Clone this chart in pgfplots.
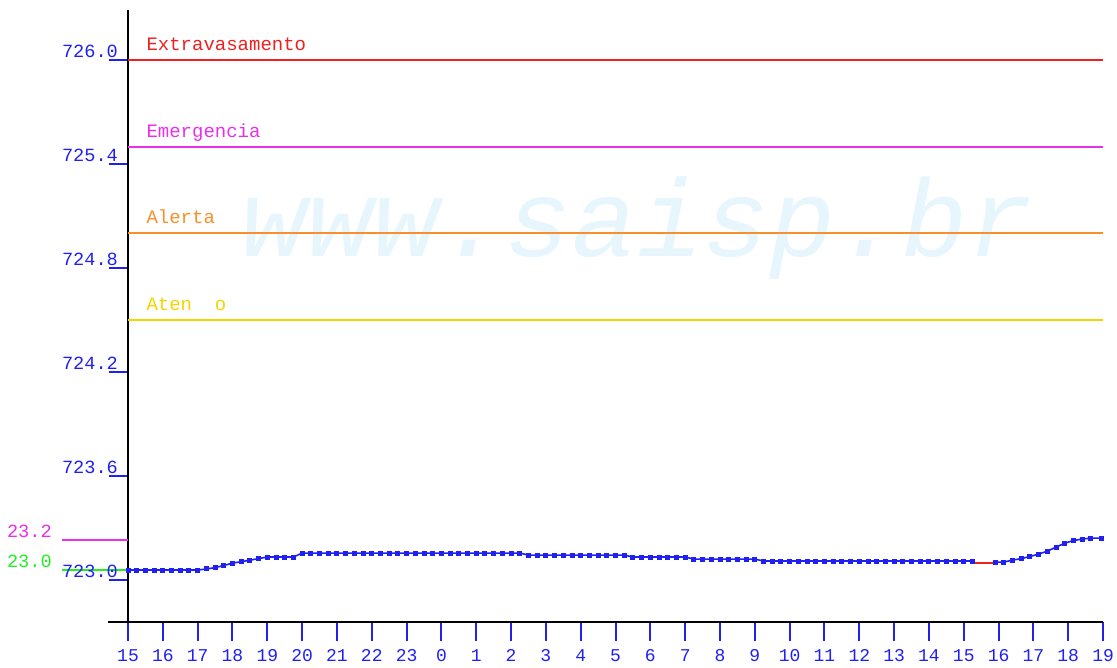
\documentclass[border=0pt]{standalone}
\usepackage{fontspec}
\setmainfont{Liberation Mono}
\usepackage{pgfplots}
\pgfplotsset{compat=1.18}

\definecolor{lvlblue}{HTML}{2020F0}
\definecolor{lvlred}{HTML}{F02020}
\definecolor{lvlmag}{HTML}{E830E8}
\definecolor{lvlorange}{HTML}{F7902A}
\definecolor{lvlyellow}{HTML}{F5D500}
\definecolor{lvlgreen}{HTML}{22EE22}
\definecolor{wmark}{HTML}{E6F6FC}

\begin{document}
\begin{tikzpicture}[every node/.append style={inner sep=0pt}]
  \begin{axis}[
      x=17.41pt, y=86.65pt,
      xmin=0, xmax=28,
      ymin=722.758, ymax=726.289,
      axis x line*=bottom,
      axis y line*=left,
      axis line style={black, line width=1pt, -},
      clip=false,
      tick align=outside,
      major tick length=9.5pt,
      tick style={lvlblue, line width=1pt},
      xtick={0,...,28},
      xticklabels={15,16,17,18,19,20,21,22,23,0,1,2,3,4,5,6,7,8,9,10,11,12,13,14,15,16,17,18,19},
      xticklabel style={text=lvlblue, font=\fontsize{9}{9}\selectfont, inner sep=4pt},
      ytick={723.0,723.6,724.2,724.8,725.4,726.0},
      yticklabels={},
    ]
    % watermark
    \node[text=wmark, font=\fontsize{55}{55}\selectfont\itshape]
      at (axis cs:14.62,725.03) {www.saisp.br};

    % threshold levels
    \addplot[lvlred, line width=1pt] coordinates {(0,726.0) (28,726.0)};
    \addplot[lvlmag, line width=1pt] coordinates {(0,725.5) (28,725.5)};
    \addplot[lvlorange, line width=1pt] coordinates {(0,725.0) (28,725.0)};
    \addplot[lvlyellow, line width=1pt] coordinates {(0,724.5) (28,724.5)};

    \node[anchor=base west, text=lvlred, font=\fontsize{9.5}{9.5}\selectfont] at (axis cs:0.52,726.058) {Extravasamento};
    \node[anchor=base west, text=lvlmag, font=\fontsize{9.5}{9.5}\selectfont] at (axis cs:0.52,725.556) {Emergencia};
    \node[anchor=base west, text=lvlorange, font=\fontsize{9.5}{9.5}\selectfont] at (axis cs:0.52,725.060) {Alerta};
    \node[anchor=base west, text=lvlyellow, font=\fontsize{9.5}{9.5}\selectfont] at (axis cs:0.52,724.558) {Aten~~o};

    % short reference marks left of the axis
    \addplot[lvlmag, line width=1pt] coordinates {(-1.9,723.231) (0,723.231)};
    \addplot[lvlgreen, line width=1pt] coordinates {(-1.9,723.058) (0,723.058)};
    \node[anchor=base east, text=lvlmag, font=\fontsize{9.3}{9.3}\selectfont] at (axis cs:-2.18,723.248) {23.2};
    \node[anchor=base east, text=lvlgreen, font=\fontsize{9.3}{9.3}\selectfont] at (axis cs:-2.18,723.075) {23.0};

    % y tick labels
    \node[anchor=base east, text=lvlblue, font=\fontsize{9.3}{9.3}\selectfont] at (axis cs:-0.28,723.017) {723.0};
    \node[anchor=base east, text=lvlblue, font=\fontsize{9.3}{9.3}\selectfont] at (axis cs:-0.28,723.617) {723.6};
    \node[anchor=base east, text=lvlblue, font=\fontsize{9.3}{9.3}\selectfont] at (axis cs:-0.28,724.217) {724.2};
    \node[anchor=base east, text=lvlblue, font=\fontsize{9.3}{9.3}\selectfont] at (axis cs:-0.28,724.817) {724.8};
    \node[anchor=base east, text=lvlblue, font=\fontsize{9.3}{9.3}\selectfont] at (axis cs:-0.28,725.417) {725.4};
    \node[anchor=base east, text=lvlblue, font=\fontsize{9.3}{9.3}\selectfont] at (axis cs:-0.28,726.017) {726.0};

    % level series
    \addplot[lvlblue, line width=0.8pt, mark=square*, mark size=0.85pt] coordinates {
      (0.00,723.058) (0.25,723.058) (0.50,723.058) (0.75,723.058) (1.00,723.058)
      (1.25,723.058) (1.50,723.058) (1.75,723.058) (2.00,723.058)
      (2.25,723.064) (2.50,723.072) (2.75,723.084) (3.00,723.098) (3.25,723.106)
      (3.50,723.115) (3.75,723.124) (4.00,723.133) (4.25,723.133) (4.50,723.133)
      (4.75,723.133) (5.00,723.156) (5.25,723.156) (5.50,723.156) (5.75,723.156)
      (6.00,723.156) (6.25,723.156) (6.50,723.156) (6.75,723.156) (7.00,723.156)
      (7.25,723.156) (7.50,723.156) (7.75,723.156) (8.00,723.156) (8.25,723.156)
      (8.50,723.156) (8.75,723.156) (9.00,723.156) (9.25,723.156) (9.50,723.156)
      (9.75,723.156) (10.00,723.156) (10.25,723.156) (10.50,723.156) (10.75,723.156)
      (11.00,723.156) (11.25,723.156) (11.50,723.144) (11.75,723.144) (12.00,723.144)
      (12.25,723.144) (12.50,723.144) (12.75,723.144) (13.00,723.144) (13.25,723.144)
      (13.50,723.144) (13.75,723.144) (14.00,723.144) (14.25,723.144) (14.50,723.133)
      (14.75,723.133) (15.00,723.133) (15.25,723.133) (15.50,723.133) (15.75,723.133)
      (16.00,723.133) (16.25,723.121) (16.50,723.121) (16.75,723.121) (17.00,723.121)
      (17.25,723.121) (17.50,723.121) (17.75,723.121) (18.00,723.121) (18.25,723.110)
      (18.50,723.110) (18.75,723.110) (19.00,723.110) (19.25,723.110) (19.50,723.110)
      (19.75,723.110) (20.00,723.110) (20.25,723.110) (20.50,723.110) (20.75,723.110)
      (21.00,723.110) (21.25,723.110) (21.50,723.110) (21.75,723.110) (22.00,723.110)
      (22.25,723.110) (22.50,723.110) (22.75,723.110) (23.00,723.110) (23.25,723.110)
      (23.50,723.110) (23.75,723.110) (24.00,723.110) (24.25,723.110)
    };
    \addplot[lvlred, line width=1pt] coordinates {(24.25,723.098) (24.90,723.098)};
    \addplot[lvlblue, line width=0.8pt, mark=square*, mark size=0.85pt] coordinates {
      (24.90,723.104) (25.15,723.104) (25.40,723.115) (25.65,723.124) (25.90,723.136)
      (26.15,723.150) (26.40,723.167) (26.65,723.190) (26.90,723.213) (27.15,723.228)
      (27.40,723.237) (27.65,723.242) (27.95,723.242)
    };

    % x axis line extends a little left of the y axis
    \draw[black, line width=1pt] (axis cs:-0.574,722.758) -- (axis cs:0,722.758);

    \coordinate (bl) at (axis cs:-3.676,722.498);
    \coordinate (tr) at (axis cs:28.40,726.347);
  \end{axis}
  \pgfresetboundingbox
  \useasboundingbox (bl) rectangle (tr);
\end{tikzpicture}
\end{document}
